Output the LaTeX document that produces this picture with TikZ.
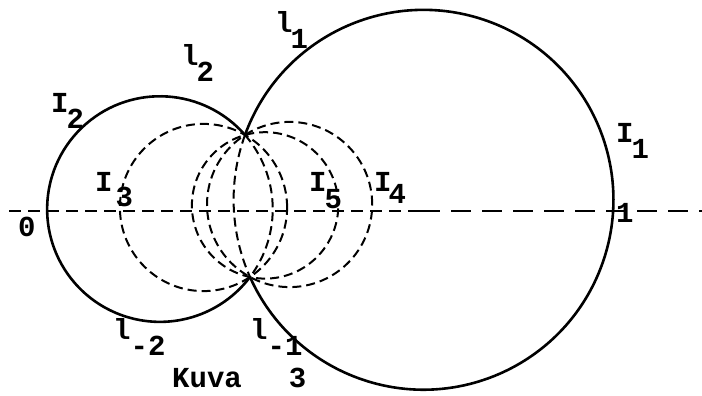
\documentclass[tikz,border=0pt]{standalone}
\usepackage{fontspec}
\setmonofont{Liberation Mono}
\begin{document}
\begin{tikzpicture}[x=1pt,y=1pt,
  solidarc/.style={line width=2.6pt, line cap=round},
  dasharc/.style={line width=2pt, dash pattern=on 9pt off 5pt},
  axisshort/.style={line width=1.8pt, dash pattern=on 12pt off 7pt},
  axislong/.style={line width=1.8pt, dash pattern=on 20pt off 11pt},
  lab/.style={font=\ttfamily\bfseries\fontsize{29}{29}\selectfont, inner sep=0pt, anchor=base west, text depth=0pt}]
\useasboundingbox (0,0) rectangle (702,396);
% common points of the pencil of circles
\coordinate (T) at (245,261);
\coordinate (B) at (250,119);
% centres
\coordinate (C3) at (203.5,188.5);
\coordinate (C4) at (289.6,191.5);
\coordinate (C5) at (265.1,190.6);
% axis
\coordinate (A0) at (9,185);
\coordinate (Am) at (420,185);
\coordinate (A1) at (702,185);
\draw[axisshort] (A0) -- (Am);
\draw[axislong] (Am) -- (A1);
% circle I1 (through 1)
\draw[solidarc] (T) arc[start angle=160.05, end angle=-156.0, radius=189.9];
\draw[dasharc] (T) arc[start angle=160.05, end angle=204.0, radius=189.9];
% circle I2 (through 0)
\draw[solidarc] (T) arc[start angle=41.05, end angle=323.0, radius=112.8];
\draw[dasharc] (T) arc[start angle=41.05, end angle=-37.0, radius=112.8];
% dashed circles I3, I4, I5
\draw[dasharc] (C3) circle[radius=83.6];
\draw[dasharc] (C4) circle[radius=82.6];
\draw[dasharc] (C5) circle[radius=73.2];
% labels
\node[lab] (lI1) at (616,253) {I\kern-2pt\lower16pt\hbox{1}};
\node[lab] (ll1) at (275,363) {l\kern-2pt\lower16pt\hbox{1}};
\node[lab] (ll2) at (181,330) {l\kern-2pt\lower16pt\hbox{2}};
\node[lab] (lI2) at (51,283) {I\kern-2pt\lower16pt\hbox{2}};
\node[lab] (lI3) at (95,204) {I\kern3pt\lower15pt\hbox{3}};
\node[lab] (lI5) at (309,204) {I\kern-2pt\lower17pt\hbox{5}};
\node[lab] (lI4) at (374,204) {I\kern-3pt\lower12pt\hbox{4}};
\node[lab] (l0) at (18,159) {0};
\node[lab] (l1) at (616,173) {1};
\node[lab] (llm2) at (113,56) {l\lower16pt\hbox{-2}};
\node[lab] (llm1) at (250,56) {l\lower16pt\hbox{-1}};
\node[lab] (cap) at (172,8) {Kuva\hspace{47pt}3};
\end{tikzpicture}
\end{document}
